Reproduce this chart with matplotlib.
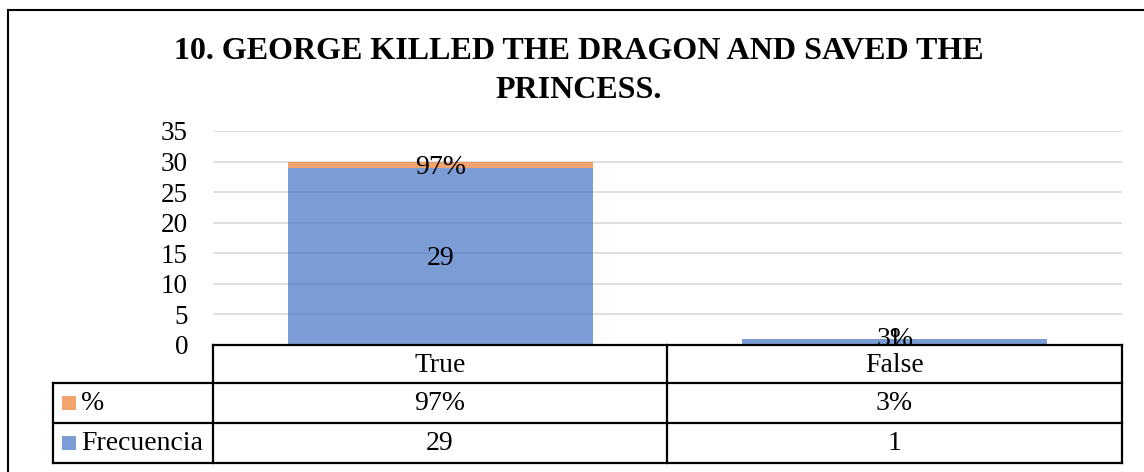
import numpy as np
import matplotlib
matplotlib.use('Agg')
import matplotlib.pyplot as plt
from matplotlib.lines import Line2D
from matplotlib.patches import Rectangle

# data
categories = ['True', 'False']
frecuencia = [29, 1]
porcentaje = [0.97, 0.03]
pct_labels = ['97%', '3%']
series_names = ['%', 'Frecuencia']
title = '10. GEORGE KILLED THE DRAGON AND SAVED THE\nPRINCESS.'

blue = '#4472C4'
orange = '#ED7D31'
fs = 20

plt.rcParams['font.family'] = 'Liberation Serif'

W, H = 1144, 472
fig = plt.figure(figsize=(W / 100, H / 100), dpi=100)


def fx(px):
    return px / W


def fy(py):
    return 1 - py / H


def hline(x0, x1, y, lw=1.6):
    fig.add_artist(Line2D([fx(x0), fx(x1)], [fy(y), fy(y)], color='black', lw=lw,
                          transform=fig.transFigure))


def vline(x, y0, y1, lw=1.6):
    fig.add_artist(Line2D([fx(x), fx(x)], [fy(y0), fy(y1)], color='black', lw=lw,
                          transform=fig.transFigure))


# outer chart frame (only top and left visible)
hline(8, W + 5, 10, lw=1.5)
vline(8, 10, H + 5, lw=1.5)

# plot area
ax_l, ax_r, ax_t, ax_b = 213, 1122, 131, 345
ax = fig.add_axes([fx(ax_l), fy(ax_b), fx(ax_r - ax_l), (ax_b - ax_t) / H])
x = np.arange(len(categories))
ax.bar(x, frecuencia, width=0.67, color=blue, alpha=0.7, zorder=2)
ax.bar(x, porcentaje, width=0.67, bottom=frecuencia, color=orange, alpha=0.7, zorder=2)

# data labels, centred in each segment but kept inside the plot area like Excel
for i in range(len(categories)):
    y1 = max(frecuencia[i] / 2 - 0.4, 0.85)
    y2 = max(frecuencia[i] + porcentaje[i] / 2 - 0.45, 0.9)
    ax.text(x[i], y1, str(frecuencia[i]), ha='center', va='center', fontsize=fs, zorder=3)
    ax.text(x[i], y2, pct_labels[i], ha='center', va='center', fontsize=fs, zorder=3)

ax.set_xlim(-0.5, len(categories) - 0.5)
ax.set_ylim(0, 35)
ax.set_yticks(np.arange(0, 36, 5))
ax.set_xticks([])
ax.grid(axis='y', color='#D9D9D9', lw=1.2, zorder=0)
ax.set_axisbelow(True)
for s in ax.spines.values():
    s.set_visible(False)
ax.tick_params(axis='y', length=0, pad=18, labelsize=19.5)

# title
fig.text(fx(579), fy(71), title, ha='center', va='center', fontsize=23,
         fontweight='bold', linespacing=1.45)

# data table
col_x = [53, 213, 667, 1122]
row_y = [345, 383, 423, 463]
hline(col_x[1], col_x[3], row_y[0])
for yy in row_y[1:]:
    hline(col_x[0], col_x[3], yy)
vline(col_x[0], row_y[1], row_y[3])
for xx in col_x[1:]:
    vline(xx, row_y[0], row_y[3])

for j, cat in enumerate(categories):
    cx = (col_x[j + 1] + col_x[j + 2]) / 2
    fig.text(fx(cx), fy((row_y[0] + row_y[1]) / 2 + 2), cat, ha='center', va='center', fontsize=fs)
    fig.text(fx(cx), fy((row_y[1] + row_y[2]) / 2), pct_labels[j], ha='center', va='center', fontsize=fs)
    fig.text(fx(cx), fy((row_y[2] + row_y[3]) / 2), str(frecuencia[j]), ha='center', va='center', fontsize=fs)

key_colors = [orange, blue]
for k, name in enumerate(series_names):
    cy = (row_y[k + 1] + row_y[k + 2]) / 2
    fig.add_artist(Rectangle((fx(62), fy(cy + 7)), 14 / W, 14 / H, color=key_colors[k],
                             alpha=0.7, transform=fig.transFigure, lw=0))
    fig.text(fx(81), fy(cy), name, ha='left', va='center', fontsize=fs)

fig.savefig('out.png', dpi=100)
